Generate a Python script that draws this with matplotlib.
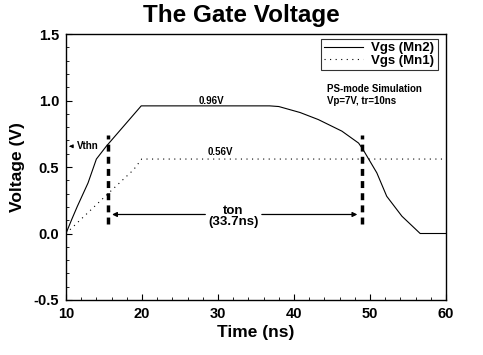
import matplotlib
matplotlib.use("Agg")
import matplotlib.pyplot as plt
from matplotlib.ticker import MultipleLocator

plt.rcParams['font.family'] = ['Liberation Sans', 'DejaVu Sans']
plt.rcParams['font.weight'] = 'bold'
plt.rcParams['axes.labelweight'] = 'bold'

# Vgs (Mn2) - solid curve
t_mn2 = [10, 10.75, 11.5, 12.9, 14.0, 15.3, 19.9, 36.8, 38.0, 40.8, 43.2, 46.3, 48.5, 49.1, 50.9, 52.2, 54.2, 56.6, 60]
v_mn2 = [0, 0.105, 0.205, 0.38, 0.56, 0.656, 0.96, 0.96, 0.955, 0.91, 0.857, 0.77, 0.68, 0.63, 0.456, 0.28, 0.13, 0.0, 0.0]

# Vgs (Mn1) - dotted curve
t_mn1 = [10, 15.35, 18.9, 19.96, 60]
v_mn1 = [0, 0.29, 0.48, 0.56, 0.56]

t_on_start = 15.5
t_on_end = 48.9

fig = plt.figure(figsize=(4.83, 3.55), dpi=100)
ax = fig.add_axes([0.1366, 0.155, 0.7868, 0.749])

ax.plot(t_mn2, v_mn2, color='k', lw=0.8, label='Vgs (Mn2)')
ax.plot(t_mn1, v_mn1, color='k', lw=0.8, linestyle=(0, (1, 4)), label='Vgs (Mn1)')

# ton markers
for tx in (t_on_start, t_on_end):
    ax.plot([tx, tx], [0.07, 0.74], color='k', lw=2.5, linestyle=(0, (2, 1.5)))

ax.annotate('', xy=(t_on_start + 0.2, 0.143), xytext=(28.7, 0.143),
            arrowprops=dict(arrowstyle='-|>', color='k', lw=0.9, mutation_scale=7))
ax.annotate('', xy=(t_on_end - 0.2, 0.143), xytext=(35.4, 0.143),
            arrowprops=dict(arrowstyle='-|>', color='k', lw=0.9, mutation_scale=7))
ax.text(32.0, 0.13, 'ton\n(33.7ns)', ha='center', va='center', fontsize=9.5,
        linespacing=0.9)

ax.text(29.2, 1.0, '0.96V', ha='center', va='center', fontsize=7)
ax.text(30.3, 0.61, '0.56V', ha='center', va='center', fontsize=7)

ax.annotate('Vthn', xy=(10.05, 0.656), xytext=(11.4, 0.656), va='center', fontsize=7,
            arrowprops=dict(arrowstyle='-|>', color='k', lw=0.8, mutation_scale=5))

ax.text(44.3, 1.125, 'PS-mode Simulation\nVp=7V, tr=10ns', ha='left', va='top', fontsize=7,
        linespacing=1.3)

leg = ax.legend(loc='upper right', bbox_to_anchor=(0.978, 0.983), fontsize=9.5, frameon=True,
                fancybox=False, edgecolor='k', borderpad=0.25, handlelength=3.0,
                labelspacing=0.05, borderaxespad=0, handletextpad=0.6)
leg.get_frame().set_linewidth(0.8)

ax.set_xlim(10, 60)
ax.set_ylim(-0.5, 1.5)
ax.xaxis.set_major_locator(MultipleLocator(10))
ax.xaxis.set_minor_locator(MultipleLocator(2))
ax.yaxis.set_major_locator(MultipleLocator(0.5))
ax.yaxis.set_minor_locator(MultipleLocator(0.1))
ax.yaxis.set_major_formatter(matplotlib.ticker.FormatStrFormatter('%.1f'))
ax.tick_params(which='both', direction='in', top=False, right=False, labelsize=10.5)
ax.tick_params(which='major', length=4, pad=5)
ax.tick_params(which='minor', length=2)
for s in ax.spines.values():
    s.set_linewidth(1.0)

ax.set_xlabel('Time (ns)', fontsize=12.5, labelpad=3)
ax.set_ylabel('Voltage (V)', fontsize=12.5, labelpad=6)
fig.suptitle('The Gate Voltage', fontsize=17.5, fontweight='bold', y=0.99)

fig.savefig('out.png', dpi=100)
